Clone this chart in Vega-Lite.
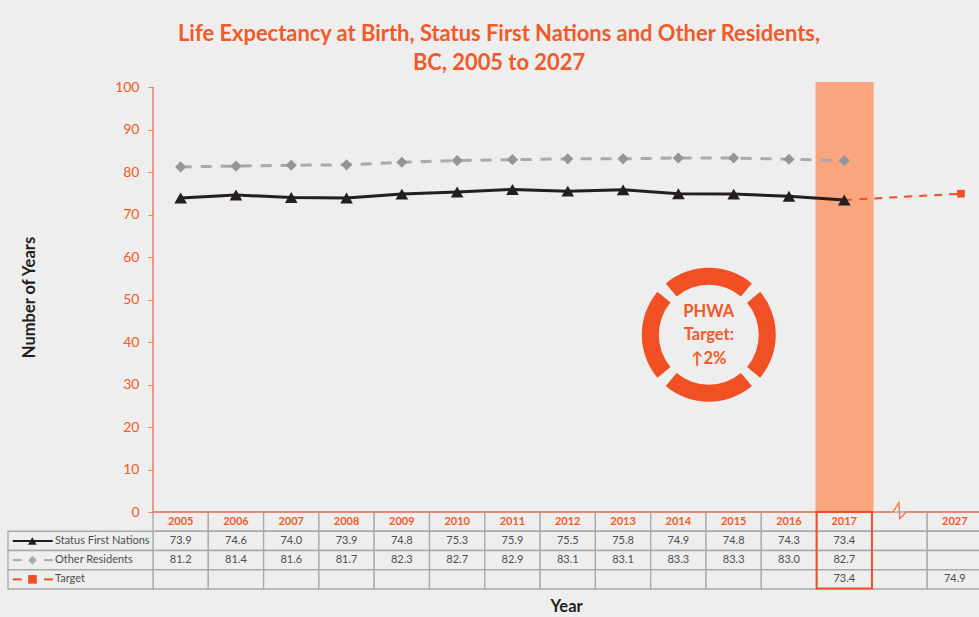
{"$schema":"https://vega.github.io/schema/vega-lite/v6.json","width":826,"height":508,"autosize":{"type":"none"},"padding":{"left":153,"top":82,"right":0,"bottom":27},"background":"#EEEEEE","config":{"view":{"stroke":null},"font":"Lato"},"title":{"text":["Life Expectancy at Birth, Status First Nations and Other Residents,","BC, 2005 to 2027"],"anchor":"middle","dx":-67,"offset":5,"fontSize":21.9,"fontWeight":"bold","font":"Lato","color":"#F15A29","lineHeight":29},"datasets":{"cells":[{"row":"Year","col":"2005"},{"row":"Year","col":"2006"},{"row":"Year","col":"2007"},{"row":"Year","col":"2008"},{"row":"Year","col":"2009"},{"row":"Year","col":"2010"},{"row":"Year","col":"2011"},{"row":"Year","col":"2012"},{"row":"Year","col":"2013"},{"row":"Year","col":"2014"},{"row":"Year","col":"2015"},{"row":"Year","col":"2016"},{"row":"Year","col":"2017"},{"row":"Year","col":" "},{"row":"Year","col":"2027"},{"row":"Status First Nations","col":"2005","v":"73.9"},{"row":"Status First Nations","col":"2006","v":"74.6"},{"row":"Status First Nations","col":"2007","v":"74.0"},{"row":"Status First Nations","col":"2008","v":"73.9"},{"row":"Status First Nations","col":"2009","v":"74.8"},{"row":"Status First Nations","col":"2010","v":"75.3"},{"row":"Status First Nations","col":"2011","v":"75.9"},{"row":"Status First Nations","col":"2012","v":"75.5"},{"row":"Status First Nations","col":"2013","v":"75.8"},{"row":"Status First Nations","col":"2014","v":"74.9"},{"row":"Status First Nations","col":"2015","v":"74.8"},{"row":"Status First Nations","col":"2016","v":"74.3"},{"row":"Status First Nations","col":"2017","v":"73.4"},{"row":"Status First Nations","col":" "},{"row":"Status First Nations","col":"2027"},{"row":"Other Residents","col":"2005","v":"81.2"},{"row":"Other Residents","col":"2006","v":"81.4"},{"row":"Other Residents","col":"2007","v":"81.6"},{"row":"Other Residents","col":"2008","v":"81.7"},{"row":"Other Residents","col":"2009","v":"82.3"},{"row":"Other Residents","col":"2010","v":"82.7"},{"row":"Other Residents","col":"2011","v":"82.9"},{"row":"Other Residents","col":"2012","v":"83.1"},{"row":"Other Residents","col":"2013","v":"83.1"},{"row":"Other Residents","col":"2014","v":"83.3"},{"row":"Other Residents","col":"2015","v":"83.3"},{"row":"Other Residents","col":"2016","v":"83.0"},{"row":"Other Residents","col":"2017","v":"82.7"},{"row":"Other Residents","col":" "},{"row":"Other Residents","col":"2027"},{"row":"Target","col":"2005"},{"row":"Target","col":"2006"},{"row":"Target","col":"2007"},{"row":"Target","col":"2008"},{"row":"Target","col":"2009"},{"row":"Target","col":"2010"},{"row":"Target","col":"2011"},{"row":"Target","col":"2012"},{"row":"Target","col":"2013"},{"row":"Target","col":"2014"},{"row":"Target","col":"2015"},{"row":"Target","col":"2016"},{"row":"Target","col":"2017","v":"73.4"},{"row":"Target","col":" "},{"row":"Target","col":"2027","v":"74.9"}],"first":[{"year":2005,"value":73.9},{"year":2006,"value":74.6},{"year":2007,"value":74.0},{"year":2008,"value":73.9},{"year":2009,"value":74.8},{"year":2010,"value":75.3},{"year":2011,"value":75.9},{"year":2012,"value":75.5},{"year":2013,"value":75.8},{"year":2014,"value":74.9},{"year":2015,"value":74.8},{"year":2016,"value":74.3},{"year":2017,"value":73.4}],"other":[{"year":2005,"value":81.2},{"year":2006,"value":81.4},{"year":2007,"value":81.6},{"year":2008,"value":81.7},{"year":2009,"value":82.3},{"year":2010,"value":82.7},{"year":2011,"value":82.9},{"year":2012,"value":83.1},{"year":2013,"value":83.1},{"year":2014,"value":83.3},{"year":2015,"value":83.3},{"year":2016,"value":83.0},{"year":2017,"value":82.7}],"target":[{"year":2017,"value":73.4},{"year":2027,"value":74.9}]},"layer":[{"layer":[{"data":{"name":"cells"},"mark":{"type":"rect","fill":"#EEEEEE","stroke":"#A7A9AC","strokeWidth":1.3},"encoding":{"x":{"field":"col","type":"nominal","sort":null,"axis":null,"scale":{"type":"band","domain":["2005","2006","2007","2008","2009","2010","2011","2012","2013","2014","2015","2016","2017"," ","2027"],"range":[0,829.5],"paddingInner":0,"paddingOuter":0}},"y":{"field":"row","type":"nominal","sort":null,"axis":null,"scale":{"type":"band","domain":["Year","Status First Nations","Other Residents","Target"],"range":[430,507],"paddingInner":0,"paddingOuter":0}}}},{"data":{"name":"cells"},"transform":[{"filter":"datum.row === 'Year' && datum.col !== ' '"}],"mark":{"type":"text","font":"Lato","fontSize":11,"fontWeight":"bold","color":"#F15A29"},"encoding":{"x":{"field":"col","type":"nominal"},"y":{"field":"row","type":"nominal"},"text":{"field":"col"}}},{"data":{"name":"cells"},"transform":[{"filter":"isValid(datum.v)"}],"mark":{"type":"text","font":"Lato","fontSize":11,"color":"#4D4D4F"},"encoding":{"x":{"field":"col","type":"nominal"},"y":{"field":"row","type":"nominal"},"text":{"field":"v"}}}]},{"encoding":{"x":{"field":"from","type":"quantitative","axis":null,"scale":{"domain":[0,145],"range":[-145,0],"nice":false,"zero":false}},"y":{"field":"row","type":"nominal","sort":null,"axis":null,"scale":{"type":"band","domain":["Year","Status First Nations","Other Residents","Target"],"range":[430,507],"paddingInner":0,"paddingOuter":0}}},"layer":[{"data":{"values":[{"row":"Status First Nations","from":0,"to":145},{"row":"Other Residents","from":0,"to":145},{"row":"Target","from":0,"to":145}]},"mark":{"type":"rect","fill":"#EEEEEE","stroke":"#A7A9AC","strokeWidth":1.3},"encoding":{"x2":{"field":"to"}}},{"data":{"values":[{"row":"Status First Nations","from":4.7,"to":44.7,"c":"#231F20"},{"row":"Other Residents","from":4.7,"to":13.7,"c":"#A7A9AC"},{"row":"Other Residents","from":36,"to":45,"c":"#A7A9AC"},{"row":"Target","from":4.7,"to":13.7,"c":"#F15025"},{"row":"Target","from":36,"to":45,"c":"#F15025"}]},"mark":{"type":"rule","strokeWidth":2},"encoding":{"x2":{"field":"to"},"color":{"field":"c","type":"nominal","scale":null}}},{"data":{"values":[{"row":"Status First Nations","from":24.3,"s":"triangle-up","c":"#231F20"},{"row":"Other Residents","from":24.5,"s":"diamond","c":"#A7A9AC"},{"row":"Target","from":24.5,"s":"square","c":"#F15025"}]},"mark":{"type":"point","filled":true,"size":75,"opacity":1},"encoding":{"shape":{"field":"s","type":"nominal","scale":null},"color":{"field":"c","type":"nominal","scale":null}}},{"data":{"values":[{"row":"Status First Nations","from":47},{"row":"Other Residents","from":47},{"row":"Target","from":47}]},"mark":{"type":"text","align":"left","font":"Lato","fontSize":11,"color":"#4D4D4F"},"encoding":{"text":{"field":"row"}}}]},{"encoding":{"x":{"field":"year","type":"quantitative","scale":{"domain":[2004.5,2017.55,2029],"range":[0,721.7,826.2],"nice":false,"zero":false},"axis":{"title":"Year","orient":"bottom","labels":false,"ticks":false,"domain":false,"grid":false,"titleFont":"Lato","titleFontSize":16.5,"titleFontWeight":"bold","titleColor":"#231F20","titlePadding":8}},"y":{"field":"value","type":"quantitative","scale":{"domain":[0,101.18],"range":[430,0],"nice":false,"zero":false},"axis":{"title":"Number of Years","orient":"left","values":[0,10,20,30,40,50,60,70,80,90,100],"domain":false,"grid":false,"tickColor":"#F47B5C","tickSize":5,"labelColor":"#F15A29","labelFont":"Lato","labelFontSize":14,"labelPadding":9,"titleFont":"Lato","titleFontSize":16.5,"titleFontWeight":"bold","titleColor":"#231F20","titlePadding":77}}},"layer":[{"data":{"values":[{"year":2016.48,"value":0,"year2":2017.53,"value2":101.18}]},"mark":{"type":"rect","fill":"#FBA57E"},"encoding":{"x2":{"field":"year2"},"y2":{"field":"value2"}}},{"data":{"values":[{"step":1,"year":2004.5,"value":100},{"step":2,"year":2004.5,"value":0},{"step":3,"year":2019.55,"value":0},{"step":4,"year":2020.2,"value":2.2},{"step":5,"year":2020.3,"value":-1.6},{"step":6,"year":2021,"value":0},{"step":7,"year":2029,"value":0}]},"mark":{"type":"line","stroke":"#F47B5C","strokeWidth":1.5},"encoding":{"order":{"field":"step","type":"quantitative"}}},{"data":{"values":[{"year":2016.5,"value":0,"year2":2017.5,"value2":-18}]},"mark":{"type":"rect","fill":null,"stroke":"#F15025","strokeWidth":2},"encoding":{"x2":{"field":"year2"},"y2":{"field":"value2"}}},{"data":{"name":"target"},"mark":{"type":"line","stroke":"#F15025","strokeWidth":2,"strokeDash":[8,7]}},{"data":{"name":"target"},"transform":[{"filter":"datum.year === 2027"}],"mark":{"type":"point","shape":"square","filled":true,"size":60,"color":"#F15025","opacity":1}},{"data":{"name":"other"},"mark":{"type":"line","stroke":"#A7A9AC","strokeWidth":3,"strokeDash":[11,9]}},{"data":{"name":"other"},"mark":{"type":"point","shape":"diamond","filled":true,"size":125,"color":"#939598","opacity":1}},{"data":{"name":"first"},"mark":{"type":"line","stroke":"#231F20","strokeWidth":3}},{"data":{"name":"first"},"mark":{"type":"point","shape":"triangle-up","filled":true,"size":160,"color":"#231F20","opacity":1}},{"data":{"values":[{"year":2014.55,"value":41.7,"start":-0.698,"end":0.698},{"year":2014.55,"value":41.7,"start":0.873,"end":2.269},{"year":2014.55,"value":41.7,"start":2.443,"end":3.84},{"year":2014.55,"value":41.7,"start":4.014,"end":5.411}]},"mark":{"type":"arc","radius":67,"radius2":50,"fill":"#F15025"},"encoding":{"theta":{"field":"start","type":"quantitative","scale":null},"theta2":{"field":"end"}}},{"data":{"values":[{"year":2014.55,"value":47.06,"label":"PHWA"},{"year":2014.55,"value":41.7,"label":"Target:"},{"year":2014.55,"value":35.9,"label":"↑2%"}]},"mark":{"type":"text","font":"Lato","fontSize":16.5,"fontWeight":"bold","color":"#F15A29"},"encoding":{"text":{"field":"label"}}}]}],"resolve":{"scale":{"x":"independent","y":"independent"},"axis":{"x":"independent","y":"independent"}}}
